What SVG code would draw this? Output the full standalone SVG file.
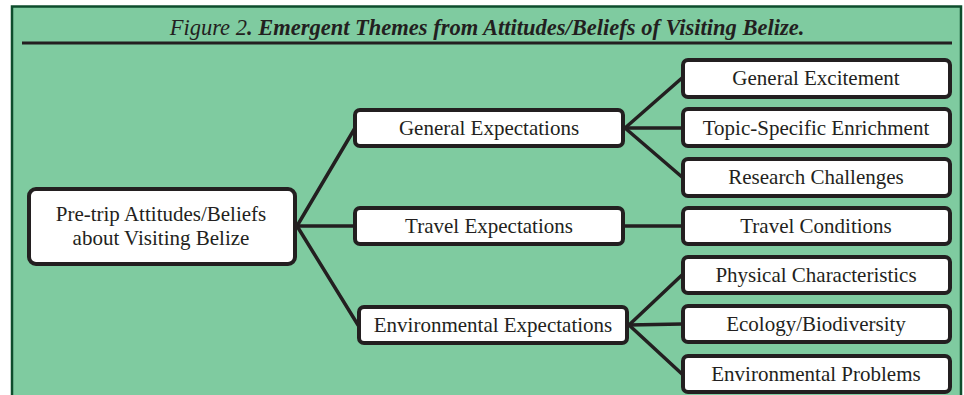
<svg xmlns="http://www.w3.org/2000/svg" width="964" height="395" viewBox="0 0 964 395">
<style>
.box{fill:#ffffff;stroke:#231f20;stroke-width:4}
.lbl{font-family:"Liberation Serif","Times New Roman",serif;font-size:21px;fill:#231f20;text-anchor:middle;dominant-baseline:central}
.conn{stroke:#231f20;stroke-width:3.5;fill:none;stroke-linecap:round}
.title{font-family:"Liberation Serif","Times New Roman",serif;font-size:22.5px;fill:#231f20;font-style:italic;text-anchor:middle}
</style>
<rect x="0" y="0" width="964" height="395" fill="#ffffff"/>
<rect x="12" y="6.5" width="949" height="400" fill="#7fcba0" stroke="#0e4d2d" stroke-width="2.5"/>
<text class="title" x="487" y="35">Figure 2<tspan font-weight="bold">. Emergent Themes from Attitudes/Beliefs of Visiting Belize.</tspan></text>
<line x1="22" y1="43" x2="952" y2="43" stroke="#231f20" stroke-width="3"/>
<g id="connectors">
<line class="conn" x1="297" y1="226" x2="355" y2="128"/>
<line class="conn" x1="297" y1="226" x2="355" y2="226"/>
<line class="conn" x1="297" y1="226" x2="358" y2="325"/>
<line class="conn" x1="625" y1="128" x2="682" y2="78"/>
<line class="conn" x1="625" y1="128" x2="682" y2="128"/>
<line class="conn" x1="625" y1="128" x2="682" y2="177"/>
<line class="conn" x1="625" y1="226" x2="682" y2="226"/>
<line class="conn" x1="629" y1="325" x2="682" y2="275"/>
<line class="conn" x1="629" y1="325" x2="682" y2="324"/>
<line class="conn" x1="629" y1="325" x2="682" y2="374"/>
</g>
<g id="root"><rect class="box" x="29" y="189" width="266" height="75" rx="7"/><text class="lbl" x="161" y="214">Pre-trip Attitudes/Beliefs</text><text class="lbl" x="161" y="238">about Visiting Belize</text></g>
<g id="general"><rect class="box" x="355" y="110" width="268" height="36" rx="5"/><text class="lbl" x="489" y="128">General Expectations</text></g>
<g id="travel"><rect class="box" x="355" y="208" width="268" height="36" rx="5"/><text class="lbl" x="489" y="226">Travel Expectations</text></g>
<g id="environmental"><rect class="box" x="359" y="307" width="268" height="36" rx="5"/><text class="lbl" x="493" y="325">Environmental Expectations</text></g>
<g id="excitement"><rect class="box" x="683" y="60" width="267" height="37" rx="5"/><text class="lbl" x="816" y="78">General Excitement</text></g>
<g id="enrichment"><rect class="box" x="683" y="109" width="267" height="37" rx="5"/><text class="lbl" x="816" y="128">Topic-Specific Enrichment</text></g>
<g id="research"><rect class="box" x="683" y="159" width="267" height="37" rx="5"/><text class="lbl" x="816" y="177">Research Challenges</text></g>
<g id="conditions"><rect class="box" x="683" y="208" width="267" height="36" rx="5"/><text class="lbl" x="816" y="226">Travel Conditions</text></g>
<g id="physical"><rect class="box" x="683" y="257" width="267" height="36" rx="5"/><text class="lbl" x="816" y="275">Physical Characteristics</text></g>
<g id="ecology"><rect class="box" x="683" y="306" width="267" height="36" rx="5"/><text class="lbl" x="816" y="324">Ecology/Biodiversity</text></g>
<g id="problems"><rect class="box" x="683" y="356" width="267" height="36" rx="5"/><text class="lbl" x="816" y="374">Environmental Problems</text></g>
</svg>
